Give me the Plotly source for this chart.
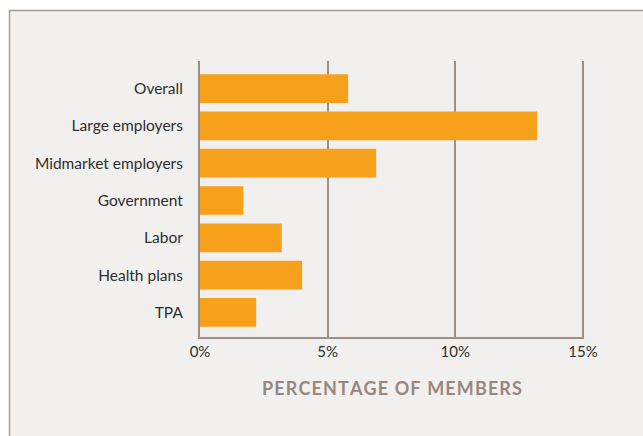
import plotly.graph_objects as go

# Share of members by segment (percent)
segments = ["Overall", "Large employers", "Midmarket employers", "Government",
            "Labor", "Health plans", "TPA"]
percent = [5.8, 13.2, 6.9, 1.7, 3.2, 4.0, 2.2]
tick_vals = [0, 5, 10, 15]
tick_text = ["0%", "5%", "10%", "15%"]
axis_title = "PERCENTAGE OF MEMBERS"

W, H = 643, 436
L, R, T, B = 200, 59, 61, 99
pw, ph = W - L - R, H - T - B

panel_fill = "#f2f0ee"
rule = "#9e8f87"
bar_color = "#f6a01b"
text_color = "#2e2e2e"

# Letter-spaced caption (hair spaces between letters)
spaced_title = "\u200a".join(axis_title)

fig = go.Figure(go.Bar(
    x=percent, y=segments, orientation="h",
    marker=dict(color=bar_color, line=dict(width=0)),
    width=0.77,
))

# Light panel with a thin rule on its top and left edges
px = lambda p: (p - L) / pw
py = lambda q: (H - B - q) / ph
fig.add_shape(type="rect", xref="paper", yref="paper",
              x0=px(9.5), x1=px(W + 20), y0=py(H + 20), y1=py(10.5),
              fillcolor=panel_fill, line=dict(color="#a69a92", width=1.4),
              layer="below")

fig.update_layout(
    width=W, height=H,
    margin=dict(l=L, r=R, t=T, b=B),
    paper_bgcolor="white",
    plot_bgcolor="rgba(0,0,0,0)",
    showlegend=False,
    font=dict(family="Lato", color=text_color, size=15.5),
    xaxis=dict(
        range=[0, 15.04], tickvals=tick_vals, ticktext=tick_text,
        showgrid=True, gridcolor=rule, gridwidth=2,
        zeroline=False, showline=True, linecolor=rule, linewidth=2,
        ticks="", tickfont=dict(size=15, color=text_color),
        title=dict(text=spaced_title, standoff=23,
                   font=dict(size=18, color="#978780", weight="bold")),
        layer="below traces",
    ),
    yaxis=dict(
        categoryorder="array", categoryarray=segments,
        range=[6.66, -0.74],
        showgrid=False, zeroline=False, showline=True,
        linecolor=rule, linewidth=2, ticks="",
        ticklabelstandoff=12,
        tickfont=dict(size=15.5, color=text_color),
    ),
)

fig.write_html("out.html")
